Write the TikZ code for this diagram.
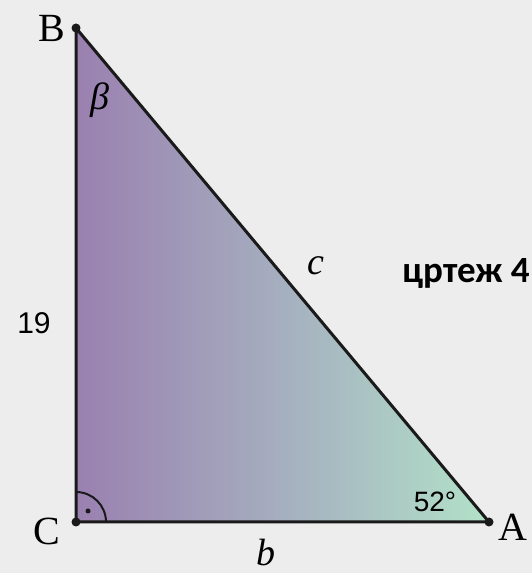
\documentclass[tikz,border=0pt]{standalone}
\usepackage{fontspec}
\setmainfont{Liberation Serif}
\newfontfamily\arialf{Liberation Sans}
\newfontfamily\calib{Carlito}
\usetikzlibrary{calc}
\definecolor{bgc}{HTML}{EDEDED}
\definecolor{purp}{HTML}{9A80B0}
\definecolor{midc}{HTML}{A5AFBF}
\definecolor{mint}{HTML}{B2E2C8}
\definecolor{ink}{HTML}{1A1A1A}
\tikzset{
  edge/.style={draw=ink,line width=3pt,line cap=round,line join=round},
  vdot/.style={circle,fill=ink,inner sep=0pt,minimum size=9pt},
  vlab/.style={font=\fontsize{40}{40}\selectfont,inner sep=0pt},
  mlab/.style={font=\itshape\fontsize{38}{38}\selectfont,inner sep=0pt},
  slab/.style={font=\arialf\fontsize{28}{28}\selectfont,inner sep=0pt},
}
\begin{document}
\begin{tikzpicture}[x=1pt,y=1pt]
\fill[bgc] (0,0) rectangle (532,573);
\useasboundingbox (0,0) rectangle (532,573);
\coordinate (B) at (76,545);
\coordinate (C) at (76,51);
\coordinate (A) at (489,51);
\shade[left color=purp,right color=mint,middle color=midc] (B) -- (C) -- (A) -- cycle;
\draw[edge] (B) -- (C) -- (A) -- cycle;
\draw[ink,line width=2pt] ($(C)+(30,0)$) arc[start angle=0,end angle=90,radius=30];
\node[circle,fill=ink,inner sep=0pt,minimum size=5pt] (rd) at ($(C)+(12,11)$) {};
\node[vdot] (Bd) at (B) {};
\node[vdot] (Cd) at (C) {};
\node[vdot] (Ad) at (A) {};
\node[vlab] (lB) at (52,545) {B};
\node[vlab] (lC) at (47,42) {C};
\node[vlab] (lA) at (513,46) {A};
\node[mlab] (beta) at (100,473) {β};
\node[mlab] (lc) at (316,307) {c};
\node[mlab] (lb) at (266,20) {b};
\node[slab,font=\arialf\fontsize{30}{30}\selectfont] (l19) at (34,250) {19};
\node[slab] (l52) at (435,71) {52°};
\node[font=\calib\bfseries\fontsize{37}{37}\selectfont,inner sep=0pt,anchor=base] (fig) at (466,290) {цртеж 4};
\end{tikzpicture}
\end{document}
